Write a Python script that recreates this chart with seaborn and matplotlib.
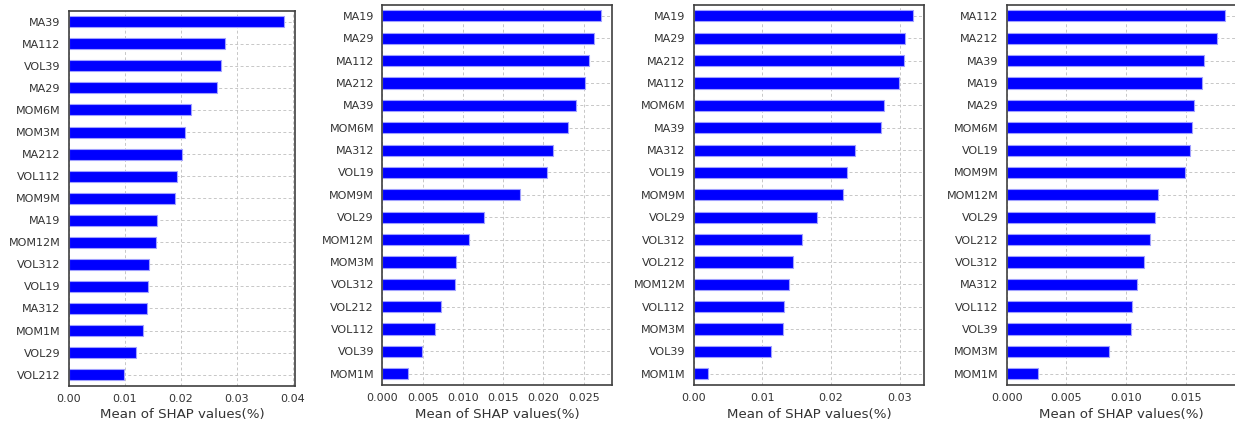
import matplotlib
matplotlib.use("Agg")
import matplotlib.pyplot as plt
import seaborn as sns
import pandas as pd

# Feature importance per model (mean |SHAP|)
feat_1 = ["MA39", "MA112", "VOL39", "MA29", "MOM6M", "MOM3M", "MA212", "VOL112", "MOM9M",
          "MA19", "MOM12M", "VOL312", "VOL19", "MA312", "MOM1M", "VOL29", "VOL212"]
shap_1 = [0.0385, 0.0279, 0.0272, 0.0264, 0.0218, 0.0208, 0.0203, 0.0193, 0.0189,
          0.0157, 0.0155, 0.0143, 0.0142, 0.0139, 0.0133, 0.0121, 0.0099]

feat_2 = ["MA19", "MA29", "MA112", "MA212", "MA39", "MOM6M", "MA312", "VOL19", "MOM9M",
          "VOL29", "MOM12M", "MOM3M", "VOL312", "VOL212", "VOL112", "VOL39", "MOM1M"]
shap_2 = [0.0272, 0.0263, 0.0257, 0.0252, 0.0241, 0.0230, 0.0212, 0.0205, 0.0171,
          0.0126, 0.0107, 0.0092, 0.0090, 0.0073, 0.0066, 0.0049, 0.0032]

feat_3 = ["MA19", "MA29", "MA212", "MA112", "MOM6M", "MA39", "MA312", "VOL19", "MOM9M",
          "VOL29", "VOL312", "VOL212", "MOM12M", "VOL112", "MOM3M", "VOL39", "MOM1M"]
shap_3 = [0.0320, 0.0308, 0.0306, 0.0299, 0.0277, 0.0273, 0.0235, 0.0223, 0.0218,
          0.0180, 0.0158, 0.0145, 0.0139, 0.0131, 0.0130, 0.0113, 0.0020]

feat_4 = ["MA112", "MA212", "MA39", "MA19", "MA29", "MOM6M", "VOL19", "MOM9M", "MOM12M",
          "VOL29", "VOL212", "VOL312", "MA312", "VOL112", "VOL39", "MOM3M", "MOM1M"]
shap_4 = [0.0183, 0.0176, 0.0165, 0.0163, 0.0157, 0.0155, 0.0153, 0.0149, 0.0127,
          0.0124, 0.0120, 0.0115, 0.0109, 0.0105, 0.0104, 0.0086, 0.0026]

x_ticks_1 = [0.00, 0.01, 0.02, 0.03, 0.04]
x_ticks_2 = [0.000, 0.005, 0.010, 0.015, 0.020, 0.025]
x_ticks_3 = [0.00, 0.01, 0.02, 0.03]
x_ticks_4 = [0.000, 0.005, 0.010, 0.015]

sns.set_style("whitegrid", {"axes.edgecolor": "0.25", "axes.linewidth": 1.2})
plt.rcParams['font.family'] = ['DejaVu Sans']

fig = plt.figure(figsize=(12.35, 4.23), dpi=100)

# left, bottom, width, height in figure fractions
boxes = [
    (0.0556, 0.0882, 0.1835, 0.8865),
    (0.3096, 0.0898, 0.1862, 0.8991),
    (0.5619, 0.0898, 0.1865, 0.8991),
    (0.8151, 0.0898, 0.1860, 0.8991),
]
panels = [(feat_1, shap_1, x_ticks_1, "%.2f"),
          (feat_2, shap_2, x_ticks_2, "%.3f"),
          (feat_3, shap_3, x_ticks_3, "%.2f"),
          (feat_4, shap_4, x_ticks_4, "%.3f")]

for box, (feats, vals, ticks, fmt) in zip(boxes, panels):
    ax = fig.add_axes(box)
    df = pd.DataFrame({"feature": feats, "shap": vals})
    sns.barplot(data=df, x="shap", y="feature", orient="h", ax=ax,
                color="#0000ff", saturation=1, width=0.5,
                edgecolor="#a0a0ff", linewidth=0.8)
    ax.set_axisbelow(True)
    ax.set_xlim(0, max(vals) * 1.05)
    ax.set_xticks(ticks)
    ax.set_xticklabels([fmt % t for t in ticks])
    ax.set_xlabel("Mean of SHAP values(%)", fontsize=9.6, color="0.2", labelpad=3)
    ax.set_ylabel("")
    ax.tick_params(axis="both", labelsize=8, colors="0.2", length=0, pad=6)
    # short fine dashes like the original grid
    ax.grid(True, axis="both", linestyle=(0, (3, 2.5)), color="0.78", linewidth=0.7)
    for s in ax.spines.values():
        s.set_visible(True)
        s.set_color("0.25")
        s.set_linewidth(1.2)

fig.savefig("out.png", dpi=100)
plt.close(fig)
